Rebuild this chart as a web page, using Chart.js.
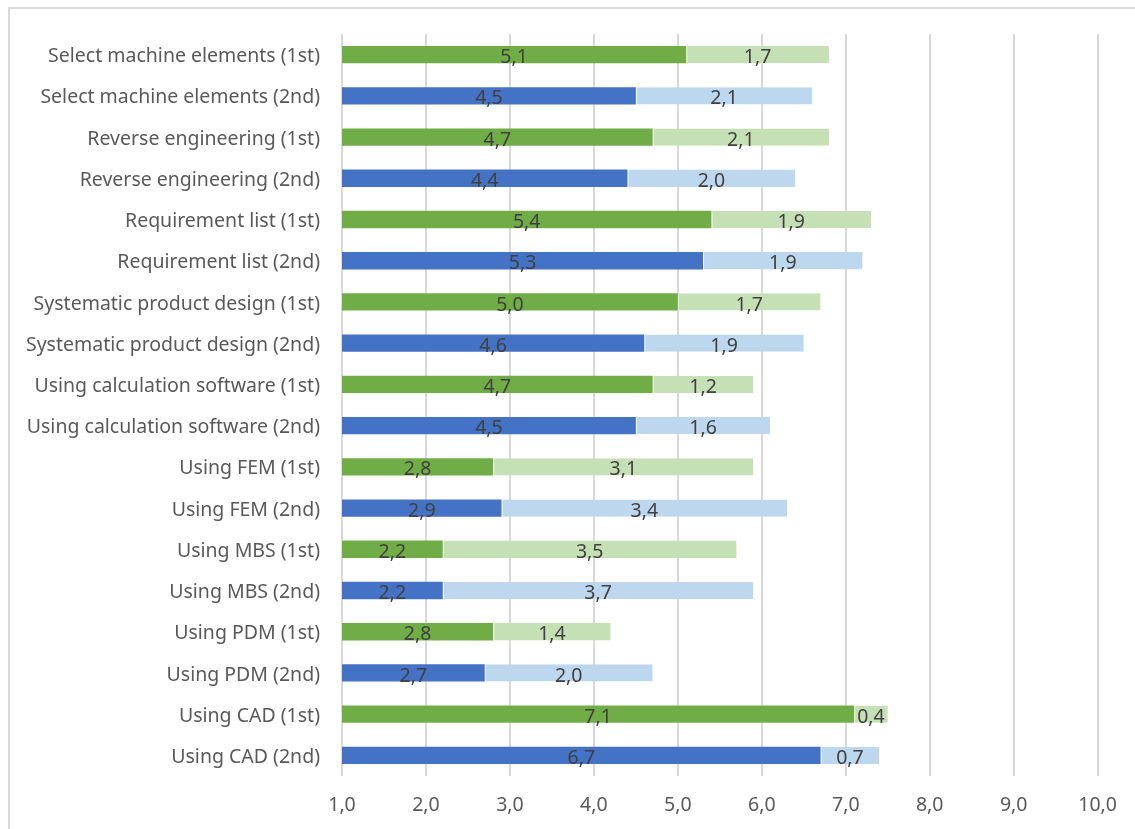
<!DOCTYPE html>
<html>
<head>
<meta charset="utf-8">
<script src="https://cdn.jsdelivr.net/npm/chart.js@4.4.1/dist/chart.umd.min.js"></script>
<style>
  html, body { margin: 0; padding: 0; background: #fff; overflow: hidden; }
  #frame {
    position: absolute; left: 8px; top: 7px; width: 1200px; height: 900px;
    border-top: 2px solid #d9d9d9; border-left: 2px solid #d9d9d9;
  }
  #wrap { position: absolute; left: 0; top: 0; width: 1135px; height: 829px; }
</style>
</head>
<body>
<div id="frame"></div>
<div id="wrap"><canvas id="chartSkills"></canvas></div>
<script>
// skills chart - mean self assessment, two cohorts

let categories = [
  'Select machine elements (1st)', 'Select machine elements (2nd)',
  'Reverse engineering (1st)', 'Reverse engineering (2nd)',
  'Requirement list (1st)', 'Requirement list (2nd)',
  'Systematic product design (1st)', 'Systematic product design (2nd)',
  'Using calculation software (1st)', 'Using calculation software (2nd)',
  'Using FEM (1st)', 'Using FEM (2nd)',
  'Using MBS (1st)', 'Using MBS (2nd)',
  'Using PDM (1st)', 'Using PDM (2nd)',
  'Using CAD (1st)', 'Using CAD (2nd)'
];
let before = [5.1, 4.5, 4.7, 4.4, 5.4, 5.3, 5.0, 4.6, 4.7, 4.5, 2.8, 2.9, 2.2, 2.2, 2.8, 2.7, 7.1, 6.7];
let gain = [1.7, 2.1, 2.1, 2.0, 1.9, 1.9, 1.7, 1.9, 1.2, 1.6, 3.1, 3.4, 3.5, 3.7, 1.4, 2.0, 0.4, 0.7];
let xTicks = [1, 2, 3, 4, 5, 6, 7, 8, 9, 10];

let darkColors = categories.map(c => c.indexOf('(1st)') > -1 ? '#70AD47' : '#4472C4');
let lightColors = categories.map(c => c.indexOf('(1st)') > -1 ? '#C5E0B4' : '#BDD7EE');

let fontFamily = '"Noto Sans", sans-serif';
let fontSize = 19.5;
let comma = v => v.toFixed(1).replace('.', ',');

// value labels centred on the visible part of each segment
let valueLabels = {
  id: 'valueLabels',
  afterDatasetsDraw(chart) {
    let ctx = chart.ctx;
    let area = chart.chartArea;
    ctx.save();
    ctx.font = fontSize + 'px ' + fontFamily;
    ctx.fillStyle = '#404040';
    ctx.textAlign = 'center';
    ctx.textBaseline = 'middle';
    chart.data.datasets.forEach((ds, i) => {
      chart.getDatasetMeta(i).data.forEach((bar, j) => {
        let left = Math.max(Math.min(bar.x, bar.base), area.left);
        let right = Math.max(bar.x, bar.base);
        ctx.fillText(comma(ds.data[j]), (left + right) / 2, bar.y + 3);
      });
    });
    ctx.restore();
  }
};

let skills = document.getElementById('chartSkills').getContext('2d');

let chartSkills = new Chart(skills, {
  type: 'bar',
  data: {
    labels: categories,
    datasets: [{
      data: before,
      backgroundColor: darkColors,
      borderWidth: 0
    }, {
      data: gain,
      backgroundColor: lightColors,
      borderColor: '#ffffff',
      borderWidth: { left: 1 },
      borderSkipped: false
    }]
  },
  options: {
    indexAxis: 'y',
    responsive: true,
    maintainAspectRatio: false,
    animation: false,
    barPercentage: 0.42,
    categoryPercentage: 1,
    layout: { padding: { top: 34, right: 37, bottom: 0, left: 0 } },
    plugins: {
      legend: { display: false },
      tooltip: { enabled: false }
    },
    scales: {
      x: {
        stacked: true,
        min: 1,
        max: 10,
        afterBuildTicks: s => { s.ticks = xTicks.map(v => ({ value: v })); },
        afterFit: s => { s.height = 53; },
        grid: { color: '#d9d9d9', lineWidth: 2, drawTicks: false },
        border: { display: false },
        ticks: {
          padding: 18,
          color: '#595959',
          font: { family: fontFamily, size: fontSize },
          callback: v => comma(v)
        }
      },
      y: {
        stacked: true,
        afterFit: s => { s.width = 342; },
        grid: { display: false, drawTicks: false },
        border: { display: false },
        ticks: {
          padding: 22,
          labelOffset: 2,
          color: '#595959',
          font: { family: fontFamily, size: fontSize }
        }
      }
    }
  },
  plugins: [valueLabels]
});
</script>
</body>
</html>
